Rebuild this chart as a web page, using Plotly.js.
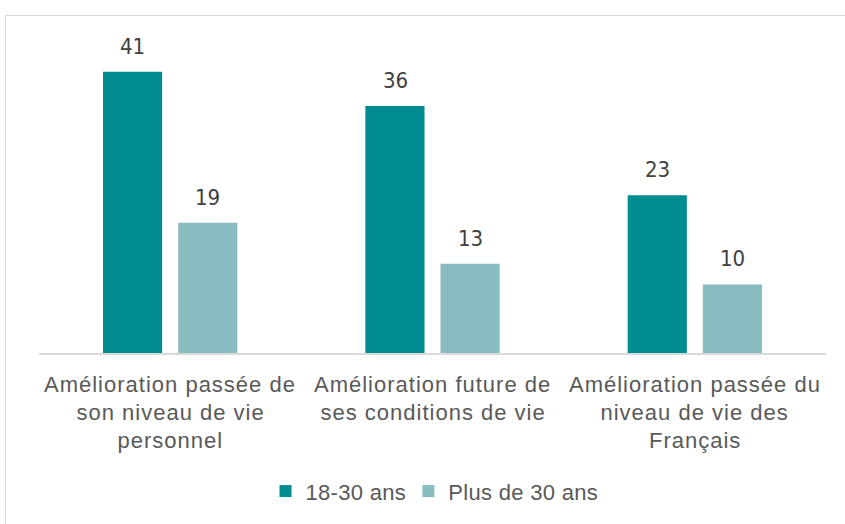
<!DOCTYPE html>
<html>
<head>
<meta charset="utf-8">
<script src="https://cdn.plot.ly/plotly-3.0.1.min.js"></script>
<style>
  html, body { margin: 0; padding: 0; background: #fff; overflow: hidden; }
  #frame { position: absolute; left: 5px; top: 15px; width: 870px; height: 540px; border: 1.5px solid #d9d9d9; box-sizing: border-box; }
  #chart { position: absolute; left: 0; top: 0; width: 845px; height: 524px; }
  #chart .annotation-text.cat { letter-spacing: 1px; }
  #chart .legendtext { letter-spacing: 0.3px; }
  #chart .legend .scrollbox { clip-path: none !important; }
</style>
</head>
<body>
<div id="frame"></div>
<div id="chart"></div>
<script>
const categories = ["cat1", "cat2", "cat3"];
const categoryLines = [
  ["Amélioration passée de", "son niveau de vie", "personnel"],
  ["Amélioration future de", "ses conditions de vie"],
  ["Amélioration passée du", "niveau de vie des", "Français"]
];
const seriesNames = ["18-30 ans", "Plus de 30 ans"];
const young = [41, 36, 23];
const older = [19, 13, 10];

const textColor = "#595959";
const labelFont = { family: "Liberation Sans, Arial, sans-serif", size: 22, color: textColor };
const valueFont = { family: "Liberation Sans Narrow, DejaVu Sans Condensed, Liberation Sans, sans-serif", size: 22, color: "#404040" };

const traces = [
  { type: "bar", name: seriesNames[0], x: categories, y: young, marker: { color: "#008C91" } },
  { type: "bar", name: seriesNames[1], x: categories, y: older, marker: { color: "#87BCC0" } }
];

const annotations = [];
let catCount = 0;
categories.forEach((c, ci) => {
  categoryLines[ci].forEach((line, li) => {
    catCount++;
    annotations.push({ x: c, y: 0, xref: "x", yref: "y", text: line, showarrow: false,
      yanchor: "middle", xanchor: "center", yshift: -(31 + li * 28), font: labelFont });
  });
});
// value labels above each bar (grouped offset of half a slot)
const series = [young, older];
series.forEach((vals, si) => {
  vals.forEach((v, ci) => {
    annotations.push({ x: categories[ci], y: v, xref: "x", yref: "y", text: String(v), showarrow: false,
      xanchor: "center", yanchor: "bottom", xshift: (si === 0 ? -1 : 1) * 37.5, yshift: 11, font: valueFont });
  });
});

const layout = {
  width: 845, height: 524,
  margin: { l: 39, r: 19, t: 30, b: 169 },
  paper_bgcolor: "rgba(0,0,0,0)", plot_bgcolor: "rgba(0,0,0,0)",
  barmode: "group", bargap: 0.427, bargroupgap: 0.213,
  xaxis: { showticklabels: false, showline: true, linecolor: "#d9d9d9", linewidth: 1.5, ticks: "", showgrid: false, zeroline: false },
  yaxis: { range: [0, 47.1], visible: false, showgrid: false, zeroline: false },
  showlegend: true,
  legend: { orientation: "h", x: 0.5, xanchor: "center", y: -0.428, yanchor: "middle",
    font: labelFont, itemwidth: 30, traceorder: "normal" },
  annotations: annotations
};

Plotly.newPlot("chart", traces, layout, { displayModeBar: false, staticPlot: true }).then(() => {
  document.querySelectorAll("#chart .annotation").forEach((g) => {
    const idx = parseInt(g.getAttribute("data-index"), 10);
    const t = g.querySelector(".annotation-text");
    if (t && idx < catCount) t.classList.add("cat");
  });
});
</script>
</body>
</html>
